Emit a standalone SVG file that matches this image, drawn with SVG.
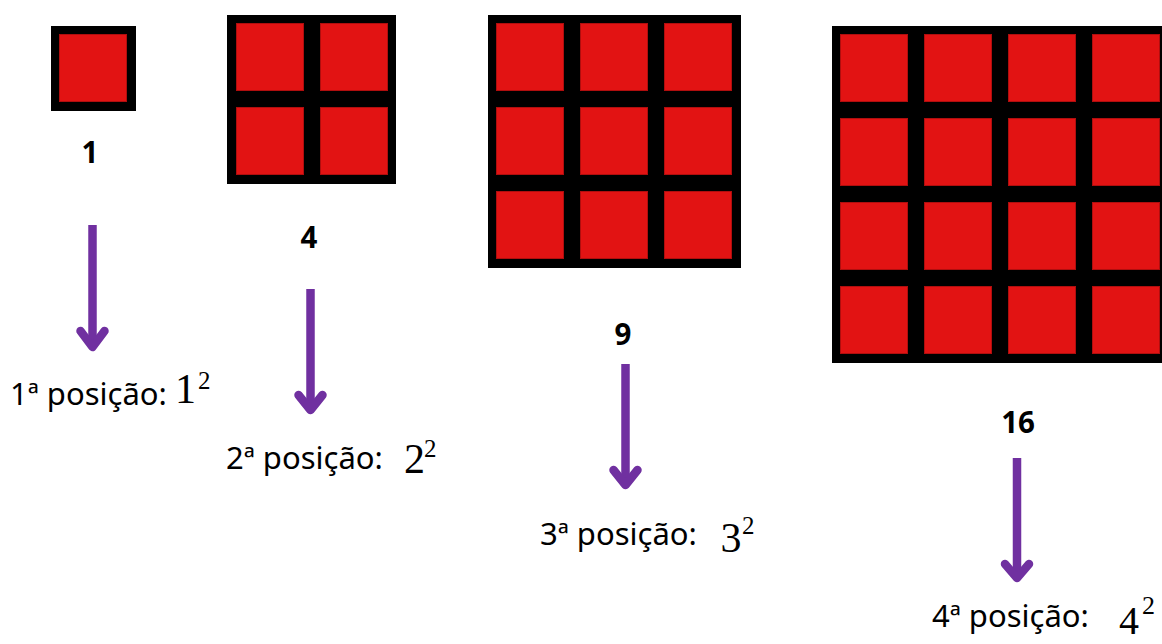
<svg xmlns="http://www.w3.org/2000/svg" width="1162" height="644" viewBox="0 0 1162 644">
<style>
.frame{fill:#000}
.cell{fill:#e21313;stroke:#b00e0e;stroke-width:1}
.num{font-family:"Noto Sans","Open Sans",sans-serif;font-weight:bold;font-size:29.5px;fill:#000;text-anchor:middle}
.lbl{font-family:"Noto Sans","Open Sans",sans-serif;font-size:31px;fill:#000}
.math{font-family:"Liberation Serif","DejaVu Serif",serif;fill:#000}
.arr{fill:none;stroke:#7030a0;stroke-width:8.5}
.head{fill:none;stroke:#7030a0;stroke-width:8.5;stroke-linecap:round;stroke-linejoin:round}
</style>
<rect width="1162" height="644" fill="#fff"/>
<g id="pos1">
<rect class="frame" x="51" y="26" width="85" height="85"/>
<rect class="cell" x="59.5" y="34.5" width="67" height="67"/>
<text class="num" x="90" y="163">1</text>
<text class="lbl" x="10" y="405">1ª posição:</text>
<text class="math" x="175" y="403" font-size="42">1</text>
<text class="math" x="198" y="389" font-size="25">2</text>
</g>
<g id="pos2">
<rect class="frame" x="227" y="15" width="169" height="169"/>
<rect class="cell" x="236.5" y="23.5" width="67" height="67"/>
<rect class="cell" x="320.5" y="23.5" width="67" height="67"/>
<rect class="cell" x="236.5" y="107.5" width="67" height="67"/>
<rect class="cell" x="320.5" y="107.5" width="67" height="67"/>
<text class="num" x="309" y="248">4</text>
<text class="lbl" x="226" y="469">2ª posição:</text>
<text class="math" x="404" y="473" font-size="42">2</text>
<text class="math" x="424" y="457" font-size="25">2</text>
</g>
<g id="pos3">
<rect class="frame" x="488" y="15" width="253" height="253"/>
<rect class="cell" x="496.5" y="23.5" width="67" height="67"/>
<rect class="cell" x="580.5" y="23.5" width="67" height="67"/>
<rect class="cell" x="664.5" y="23.5" width="67" height="67"/>
<rect class="cell" x="496.5" y="107.5" width="67" height="67"/>
<rect class="cell" x="580.5" y="107.5" width="67" height="67"/>
<rect class="cell" x="664.5" y="107.5" width="67" height="67"/>
<rect class="cell" x="496.5" y="191.5" width="67" height="67"/>
<rect class="cell" x="580.5" y="191.5" width="67" height="67"/>
<rect class="cell" x="664.5" y="191.5" width="67" height="67"/>
<text class="num" x="623" y="345">9</text>
<text class="lbl" x="540" y="545">3ª posição:</text>
<text class="math" x="720.5" y="552" font-size="42">3</text>
<text class="math" x="742" y="534" font-size="25">2</text>
</g>
<g id="pos4">
<rect class="frame" x="832" y="26" width="336" height="337"/>
<rect class="cell" x="840.5" y="34.5" width="67" height="67"/>
<rect class="cell" x="924.5" y="34.5" width="67" height="67"/>
<rect class="cell" x="1008.5" y="34.5" width="67" height="67"/>
<rect class="cell" x="1092.5" y="34.5" width="67" height="67"/>
<rect class="cell" x="840.5" y="118.5" width="67" height="67"/>
<rect class="cell" x="924.5" y="118.5" width="67" height="67"/>
<rect class="cell" x="1008.5" y="118.5" width="67" height="67"/>
<rect class="cell" x="1092.5" y="118.5" width="67" height="67"/>
<rect class="cell" x="840.5" y="202.5" width="67" height="67"/>
<rect class="cell" x="924.5" y="202.5" width="67" height="67"/>
<rect class="cell" x="1008.5" y="202.5" width="67" height="67"/>
<rect class="cell" x="1092.5" y="202.5" width="67" height="67"/>
<rect class="cell" x="840.5" y="286.5" width="67" height="67"/>
<rect class="cell" x="924.5" y="286.5" width="67" height="67"/>
<rect class="cell" x="1008.5" y="286.5" width="67" height="67"/>
<rect class="cell" x="1092.5" y="286.5" width="67" height="67"/>
<text class="num" x="1018" y="433">16</text>
<text class="lbl" x="932" y="627">4ª posição:</text>
<text class="math" x="1119" y="634" font-size="40">4</text>
<text class="math" x="1142" y="614" font-size="26">2</text>
</g>
<g id="connectors">
<line class="arr" x1="92.5" y1="225" x2="92.5" y2="346"/>
<path class="head" d="M80.5 331 L92.5 347 L104.5 331"/>
<line class="arr" x1="310.5" y1="289" x2="310.5" y2="409"/>
<path class="head" d="M298.5 395 L310.5 410 L322.5 395"/>
<line class="arr" x1="625.5" y1="364" x2="625.5" y2="484"/>
<path class="head" d="M613.5 470 L625.5 485 L637.5 470"/>
<line class="arr" x1="1017" y1="458" x2="1017" y2="577"/>
<path class="head" d="M1005 564 L1017 578 L1029 564"/>
</g>
</svg>
